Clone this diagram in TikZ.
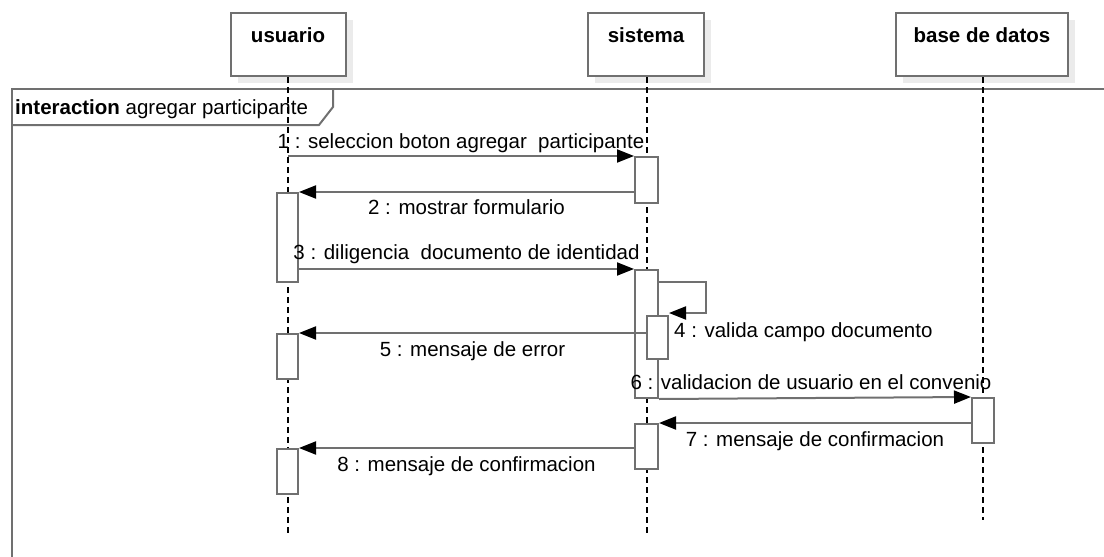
\documentclass[tikz,border=0pt]{standalone}
\usepackage{fontspec}
\setmainfont{Liberation Sans}
\usetikzlibrary{arrows.meta,shadows}
\definecolor{linegray}{HTML}{707070}
\begin{document}
\begin{tikzpicture}[x=1pt,y=-1pt,
  every node/.style={font=\fontsize{20.5}{24}\selectfont},
  lifebox/.style={draw=linegray, line width=2pt, fill=white, rectangle, anchor=north,
    inner xsep=0pt, inner ysep=0pt, text height=29pt, text depth=34pt,
    font=\fontsize{20.5}{24}\selectfont\bfseries,
    drop shadow={shadow xshift=7pt, shadow yshift=-7pt, fill=black!8, opacity=1}},
  lifeline/.style={draw=black, line width=1.2pt, dash pattern=on 6pt off 4pt},
  actbox/.style={draw=linegray, line width=2pt, fill=white, rectangle, anchor=north west,
    inner sep=0pt, minimum width=#1},
  msg/.style={draw=linegray, line width=2pt, -{Triangle[length=17pt,width=13pt,fill=black,color=black]}},
  lbl/.style={anchor=base, inner sep=0pt, text=black},
  framestyle/.style={draw=linegray, line width=2pt}]
\useasboundingbox (0,0) rectangle (1104,557);

% frame
\draw[framestyle] (12,557) -- (12,89) -- (1104,89);
\draw[framestyle] (333,89) -- (333,107) -- (319,125) -- (12,125);
\node[anchor=base west, inner sep=0pt] (frametitle) at (15,114) {\textbf{interaction} agregar participante};

% lifeline heads
\node[lifebox, minimum width=115pt] (usr) at (288,12) {usuario};
\node[lifebox, minimum width=116pt] (sis) at (646,12) {sistema};
\node[lifebox, minimum width=172pt] (bd) at (982,12) {base de datos};

\coordinate (usrend) at (288,533);
\coordinate (sisend) at (647,533);
\coordinate (bdend) at (983,520);
\draw[lifeline] (usr.south) -- (usrend);
\draw[lifeline] ([xshift=1pt]sis.south) -- (sisend);
\draw[lifeline] ([xshift=1pt]bd.south) -- (bdend);

% activations
\node[actbox=21pt, minimum height=89pt] (U1) at (276,192) {};
\node[actbox=21pt, minimum height=45pt] (U2) at (276,333) {};
\node[actbox=21pt, minimum height=45pt] (U3) at (276,448) {};
\node[actbox=23pt, minimum height=46pt] (S1) at (634,156) {};
\node[actbox=23pt, minimum height=128pt] (S2) at (634,269) {};
\node[actbox=21pt, minimum height=43pt] (S2n) at (646,315) {};
\node[actbox=23pt, minimum height=45pt] (S3) at (634,423) {};
\node[actbox=22pt, minimum height=45pt] (D1) at (971,397) {};

% messages
\draw[msg] (S1.north west -| usr.south) -- (S1.north west)
  node[lbl, midway, yshift=8pt] (m1) {1 : seleccion boton agregar~ participante};
\draw[msg] (U1.north east -| S1.west) -- (U1.north east)
  node[lbl, midway, yshift=-22pt] (m2) {2 : mostrar formulario};
\draw[msg] (S2.north west -| U1.east) -- (S2.north west)
  node[lbl, midway, yshift=10pt] (m3) {3 : diligencia~ documento de identidad};
\draw[msg] ([yshift=-13pt]S2.north east) -| ([xshift=37pt,yshift=2pt]S2n.north east) -- ([yshift=2pt]S2n.north east);
\node[anchor=base west, inner sep=0pt] (m4) at ([xshift=5pt,yshift=-22pt]S2n.north east) {4 : valida campo documento};
\draw[msg] (U2.north east -| S2n.west) -- (U2.north east)
  node[lbl, midway, yshift=-23pt] (m5) {5 : mensaje de error};
\draw[msg] (S2.south east) -- (D1.north west)
  node[lbl, midway, xshift=-4pt, yshift=9pt] (m6) {6 : validacion de usuario en el convenio};
\draw[msg] (S3.north east -| D1.west) -- (S3.north east)
  node[lbl, midway, yshift=-23pt] (m7) {7 : mensaje de confirmacion};
\draw[msg] (U3.north east -| S3.west) -- (U3.north east)
  node[lbl, midway, yshift=-23pt] (m8) {8 : mensaje de confirmacion};
\end{tikzpicture}
\end{document}
